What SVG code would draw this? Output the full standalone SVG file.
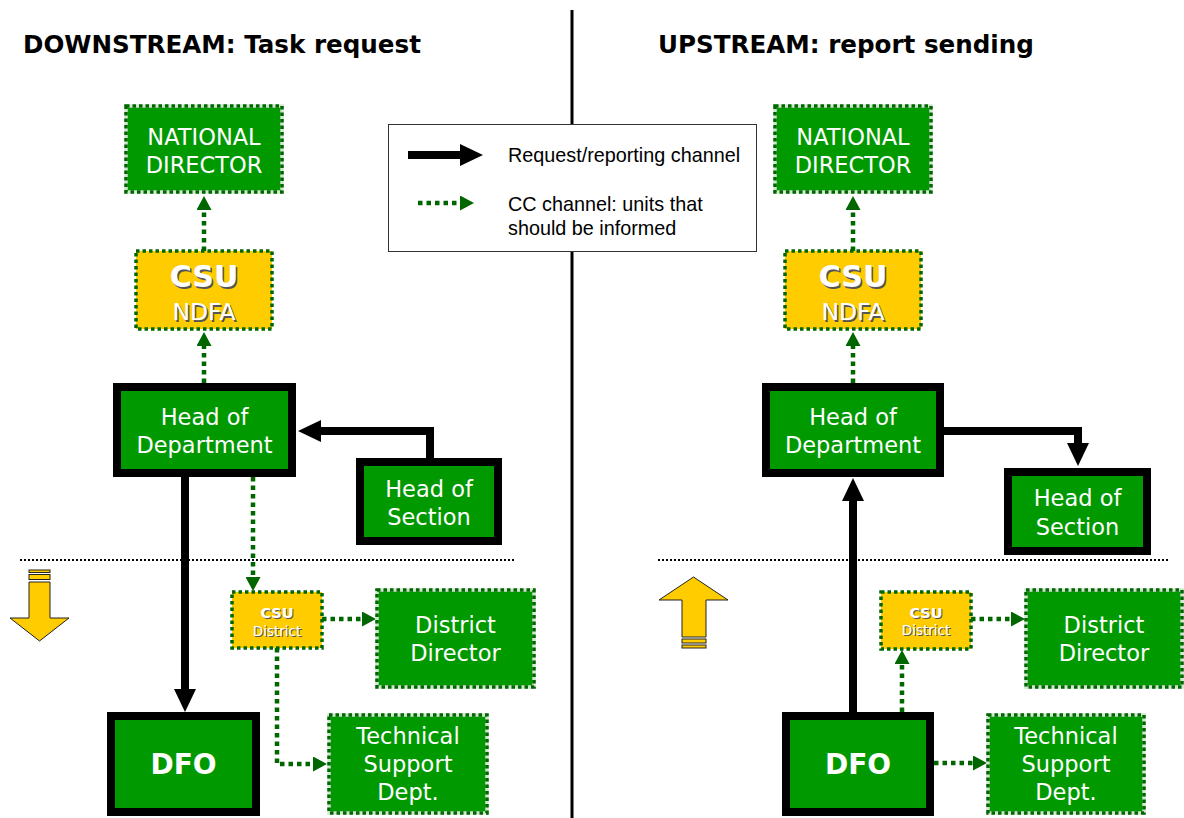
<svg xmlns="http://www.w3.org/2000/svg" width="1184" height="818" viewBox="0 0 1184 818">
<style>
.title{font-family:"DejaVu Sans",sans-serif;font-weight:bold;font-size:24.6px;fill:#000}
.t{font-family:"DejaVu Sans",sans-serif;font-size:22.5px;fill:#fff;text-anchor:middle}
.big{font-family:"DejaVu Sans",sans-serif;font-weight:bold;font-size:28px;fill:#fff;text-anchor:middle}
.csu{font-family:"DejaVu Sans",sans-serif;font-weight:bold;fill:#fff;text-anchor:middle}
.sub{font-family:"DejaVu Sans",sans-serif;fill:#fff;text-anchor:middle}
.sh{fill:#555}
.leg{font-family:"Liberation Sans",Arial,sans-serif;font-size:19.8px;fill:#000}
.gbox{fill:#009900}
.ybox{fill:#ffcc00}
.dotb{fill:none;stroke:#006600;stroke-width:3.5;stroke-dasharray:3.5 3}
.under{fill:none;stroke:#cfe6cf;stroke-width:3.5}
.thick{fill:#009900;stroke:#000;stroke-width:8}
.black{fill:none;stroke:#000;stroke-width:8;marker-end:url(#ab)}
.green{fill:none;stroke:#006600;stroke-width:4.5;stroke-dasharray:4.5 4;marker-end:url(#ag)}
.sep{fill:none;stroke:#000;stroke-width:2;stroke-dasharray:2 2}
.yarrow{fill:#ffcc00;stroke:#222;stroke-width:1}
</style>
<defs>
<marker id="ab" markerUnits="userSpaceOnUse" viewBox="0 -11 23 22" refX="1" refY="0" markerWidth="23" markerHeight="22" orient="auto">
<path d="M0,-11 L23,0 L0,11 Z" fill="#000"/>
</marker>
<marker id="ag" markerUnits="userSpaceOnUse" viewBox="0 -7.5 14 15" refX="1" refY="0" markerWidth="14" markerHeight="15" orient="auto">
<path d="M0,-7.5 L14,0 L0,7.5 Z" fill="#006600"/>
</marker>
</defs>
<rect width="1184" height="818" fill="#fff"/>

<!-- headings, divider, separators -->
<g id="headings">
<text class="title" x="23" y="53">DOWNSTREAM: Task request</text>
<text class="title" x="658" y="53">UPSTREAM: report sending</text>
</g>
<line id="divider" x1="572" y1="10" x2="572" y2="818" stroke="#000" stroke-width="3"/>
<g id="separators">
<line class="sep" x1="20" y1="560" x2="515" y2="560"/>
<line class="sep" x1="658" y1="560" x2="1170" y2="560"/>
</g>

<!-- legend -->
<g id="legend">
<rect x="388.5" y="124.5" width="368" height="127" fill="#fff" stroke="#333" stroke-width="1"/>
<path class="black" d="M408 155 H461"/>
<path class="green" d="M418 203 H461"/>
<text class="leg" x="508" y="162">Request/reporting channel</text>
<text class="leg" x="508" y="211">CC channel: units that</text>
<text class="leg" x="508" y="235">should be informed</text>
</g>

<!-- direction arrows -->
<g id="down-arrow">
<rect class="yarrow" x="29" y="570" width="21" height="2.5"/>
<rect class="yarrow" x="29" y="574.5" width="21" height="5"/>
<polygon class="yarrow" points="29,582 50,582 50,618 69,618 39.5,641 10,618 29,618"/>
</g>
<g id="up-arrow">
<polygon class="yarrow" points="693.5,577 728,600 706,600 706,637 682,637 682,600 659,600"/>
<rect class="yarrow" x="682" y="639" width="24" height="4"/>
<rect class="yarrow" x="682" y="645" width="24" height="3"/>
</g>

<!-- connectors -->
<g id="connectors">
<path class="green" d="M204 251 V209"/>
<path class="green" d="M204 383 V345"/>
<path class="black" d="M430 462 V431 H320"/>
<path class="black" d="M185 477 V690"/>
<path class="green" d="M253 477 V578"/>
<path class="green" d="M322 619 H363"/>
<path class="green" d="M277 648 V764 H314"/>

<path class="green" d="M853 251 V209"/>
<path class="green" d="M853 383 V345"/>
<path class="black" d="M940 431 H1078 V444"/>
<path class="black" d="M853 712 V500"/>
<path class="green" d="M902 712 V663"/>
<path class="green" d="M971 619 H1012"/>
<path class="green" d="M934 763 H974"/>
</g>

<!-- LEFT nodes -->
<g id="nd-left">
<rect class="gbox" x="126" y="106" width="156" height="86"/>
<rect class="under" x="126" y="106" width="156" height="86"/>
<rect class="dotb" x="126" y="106" width="156" height="86"/>
<text class="t" x="204" y="145">NATIONAL</text>
<text class="t" x="204" y="173">DIRECTOR</text>
</g>
<g id="csu-ndfa-left">
<rect class="ybox" x="136" y="251" width="136" height="78"/>
<rect class="dotb" x="136" y="251" width="136" height="78"/>
<text class="csu sh" x="205.5" y="288.5" font-size="30">CSU</text>
<text class="csu" x="204" y="287" font-size="30">CSU</text>
<text class="sub sh" x="205.5" y="321.5" font-size="23.5">NDFA</text>
<text class="sub" x="204" y="320" font-size="23.5">NDFA</text>
</g>
<g id="hod-left">
<rect class="thick" x="117" y="387" width="175" height="86"/>
<text class="t" x="204.5" y="425">Head of</text>
<text class="t" x="204.5" y="453">Department</text>
</g>
<g id="hos-left">
<rect class="thick" x="360" y="462" width="138" height="79"/>
<text class="t" x="429" y="497">Head of</text>
<text class="t" x="429" y="525">Section</text>
</g>
<g id="csud-left">
<rect class="ybox" x="232" y="592" width="90" height="56"/>
<rect class="dotb" x="232" y="592" width="90" height="56"/>
<text class="csu sh" x="278" y="619" font-size="14.5">CSU</text>
<text class="csu" x="277" y="618" font-size="14.5">CSU</text>
<text class="sub sh" x="278" y="637" font-size="13.5">District</text>
<text class="sub" x="277" y="636" font-size="13.5">District</text>
</g>
<g id="dd-left">
<rect class="gbox" x="377" y="590" width="157" height="97"/>
<rect class="under" x="377" y="590" width="157" height="97"/>
<rect class="dotb" x="377" y="590" width="157" height="97"/>
<text class="t" x="455.5" y="633">District</text>
<text class="t" x="455.5" y="661">Director</text>
</g>
<g id="tech-left">
<rect class="gbox" x="329" y="715" width="158" height="98"/>
<rect class="under" x="329" y="715" width="158" height="98"/>
<rect class="dotb" x="329" y="715" width="158" height="98"/>
<text class="t" x="408" y="744">Technical</text>
<text class="t" x="408" y="772">Support</text>
<text class="t" x="408" y="800">Dept.</text>
</g>
<g id="dfo-left">
<rect class="thick" x="111" y="716" width="145" height="96"/>
<text class="big" x="183.5" y="774">DFO</text>
</g>

<!-- RIGHT nodes -->
<g id="nd-right">
<rect class="gbox" x="775" y="106" width="156" height="86"/>
<rect class="under" x="775" y="106" width="156" height="86"/>
<rect class="dotb" x="775" y="106" width="156" height="86"/>
<text class="t" x="853" y="145">NATIONAL</text>
<text class="t" x="853" y="173">DIRECTOR</text>
</g>
<g id="csu-ndfa-right">
<rect class="ybox" x="785" y="251" width="136" height="78"/>
<rect class="dotb" x="785" y="251" width="136" height="78"/>
<text class="csu sh" x="854.5" y="288.5" font-size="30">CSU</text>
<text class="csu" x="853" y="287" font-size="30">CSU</text>
<text class="sub sh" x="854.5" y="321.5" font-size="23.5">NDFA</text>
<text class="sub" x="853" y="320" font-size="23.5">NDFA</text>
</g>
<g id="hod-right">
<rect class="thick" x="766" y="387" width="174" height="86"/>
<text class="t" x="853" y="425">Head of</text>
<text class="t" x="853" y="453">Department</text>
</g>
<g id="hos-right">
<rect class="thick" x="1008" y="472" width="139" height="79"/>
<text class="t" x="1077.5" y="506">Head of</text>
<text class="t" x="1077.5" y="535">Section</text>
</g>
<g id="csud-right">
<rect class="ybox" x="881" y="592" width="90" height="57"/>
<rect class="dotb" x="881" y="592" width="90" height="57"/>
<text class="csu sh" x="927" y="619" font-size="14.5">CSU</text>
<text class="csu" x="926" y="618" font-size="14.5">CSU</text>
<text class="sub sh" x="927" y="636" font-size="13.5">District</text>
<text class="sub" x="926" y="635" font-size="13.5">District</text>
</g>
<g id="dd-right">
<rect class="gbox" x="1026" y="590" width="156" height="97"/>
<rect class="under" x="1026" y="590" width="156" height="97"/>
<rect class="dotb" x="1026" y="590" width="156" height="97"/>
<text class="t" x="1104" y="633">District</text>
<text class="t" x="1104" y="661">Director</text>
</g>
<g id="tech-right">
<rect class="gbox" x="988" y="715" width="156" height="98"/>
<rect class="under" x="988" y="715" width="156" height="98"/>
<rect class="dotb" x="988" y="715" width="156" height="98"/>
<text class="t" x="1066" y="744">Technical</text>
<text class="t" x="1066" y="772">Support</text>
<text class="t" x="1066" y="800">Dept.</text>
</g>
<g id="dfo-right">
<rect class="thick" x="786" y="716" width="144" height="96"/>
<text class="big" x="858" y="774">DFO</text>
</g>
</svg>
